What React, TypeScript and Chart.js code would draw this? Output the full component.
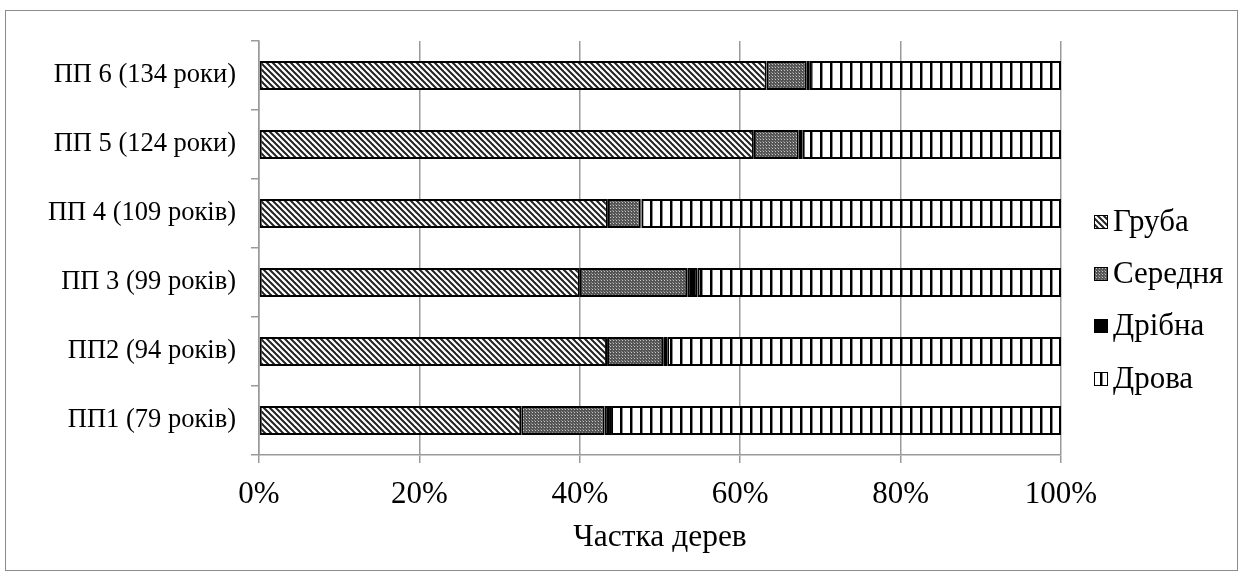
import React, { useEffect, useRef } from "react";
import { Chart, registerables } from "chart.js";

Chart.register(...registerables);

// Sample plots, listed top to bottom
const plots = [
  "ПП 6 (134 роки)",
  "ПП 5 (124 роки)",
  "ПП 4 (109 років)",
  "ПП 3 (99 років)",
  "ПП2 (94 років)",
  "ПП1 (79 років)",
];

// Share of trees by timber class, %
const coarse = [63.3, 61.7, 43.5, 40.0, 43.4, 32.7];
const medium = [5.0, 5.6, 4.1, 13.4, 7.0, 10.4];
const small = [0.3, 0.5, 0.1, 1.3, 0.5, 0.8];
const firewood = [31.4, 32.2, 52.3, 45.3, 49.1, 56.1];

const seriesNames = ["Груба", "Середня", "Дрібна", "Дрова"];
const xTicks = [0, 20, 40, 60, 80, 100];
const xTitle = "Частка дерев";

const SERIF = '"Liberation Serif", "Times New Roman", serif';
const GRID = "#9a9a9a";

function tile(size: number, paint: (c: CanvasRenderingContext2D) => void) {
  const cv = document.createElement("canvas");
  cv.width = size;
  cv.height = size;
  const c = cv.getContext("2d")!;
  c.fillStyle = "#fff";
  c.fillRect(0, 0, size, size);
  paint(c);
  return cv;
}

function makePatterns(ctx: CanvasRenderingContext2D) {
  // "\\\" hatch
  const diag = tile(6, (c) => {
    c.strokeStyle = "#222";
    c.lineWidth = 2;
    for (const x0 of [-6, 0, 6]) {
      c.beginPath();
      c.moveTo(x0 - 1, -1);
      c.lineTo(x0 + 7, 7);
      c.stroke();
    }
  });
  // fine dotted grey
  const dots = tile(3, (c) => {
    c.fillStyle = "#555";
    c.fillRect(0, 0, 3, 3);
    c.fillStyle = "#c8c8c8";
    c.fillRect(1, 1, 1, 1);
    c.fillStyle = "#8a8a8a";
    c.fillRect(0, 0, 1, 1);
  });
  // vertical stripes
  const vert = tile(10, (c) => {
    c.fillStyle = "#000";
    c.fillRect(0, 0, 2, 10);
    c.fillStyle = "#8a8a8a";
    c.fillRect(2, 0, 1, 10);
  });
  return [
    ctx.createPattern(diag, "repeat")!,
    ctx.createPattern(dots, "repeat")!,
    "#000",
    ctx.createPattern(vert, "repeat")!,
  ];
}

const legendPlugin = {
  id: "sideLegend",
  afterDraw(chart: any) {
    const ctx: CanvasRenderingContext2D = chart.ctx;
    const ys = [222, 274, 326, 379];
    const bx = 1094;
    const box = 14;
    ctx.save();
    chart.data.datasets.forEach((ds: any, i: number) => {
      const y = ys[i];
      ctx.fillStyle = ds.backgroundColor;
      ctx.fillRect(bx, y - box / 2, box, box);
      ctx.strokeStyle = "#000";
      ctx.lineWidth = 1;
      ctx.strokeRect(bx + 0.5, y - box / 2 + 0.5, box - 1, box - 1);
      ctx.fillStyle = "#000";
      ctx.font = `31px ${SERIF}`;
      ctx.textBaseline = "middle";
      ctx.textAlign = "left";
      ctx.fillText(ds.label, bx + box + 5, y + 1);
    });
    ctx.restore();
  },
};

export default function App() {
  const ref = useRef<HTMLCanvasElement>(null);

  useEffect(() => {
    const canvas = ref.current!;
    const ctx = canvas.getContext("2d")!;
    const fills = makePatterns(ctx);
    const values = [coarse, medium, small, firewood];

    const chart = new Chart(canvas, {
      type: "bar",
      data: {
        labels: plots,
        datasets: seriesNames.map((name, i) => ({
          label: name,
          data: values[i],
          backgroundColor: fills[i] as any,
          borderColor: "#000",
          borderWidth: 2,
          borderSkipped: false,
          categoryPercentage: 1,
          barPercentage: 0.42,
        })),
      },
      options: {
        indexAxis: "y",
        responsive: false,
        animation: false,
        layout: { padding: { top: 41, right: 181, bottom: 17, left: 0 } },
        scales: {
          x: {
            stacked: true,
            min: 0,
            max: 100,
            afterBuildTicks: (scale: any) => {
              scale.ticks = xTicks.map((v) => ({ value: v }));
            },
            afterFit: (scale: any) => {
              scale.height = 106;
            },
            ticks: {
              callback: (v: any) => `${v}%`,
              color: "#000",
              font: { family: SERIF, size: 31 },
              padding: 13,
            },
            grid: { color: GRID, lineWidth: 1.5, tickLength: 8 },
            border: { color: GRID, width: 1.5 },
            title: {
              display: true,
              text: xTitle,
              color: "#000",
              font: { family: SERIF, size: 31.5 },
              padding: { top: 0, bottom: 4 },
            },
          },
          y: {
            stacked: true,
            afterFit: (scale: any) => {
              scale.width = 259;
            },
            ticks: {
              color: "#000",
              font: { family: SERIF, size: 26.5 },
              padding: 15,
            },
            grid: {
              drawOnChartArea: false,
              color: GRID,
              lineWidth: 1.5,
              tickLength: 8,
              offset: true,
            },
            border: { color: GRID, width: 1.5 },
          },
        },
        plugins: {
          legend: { display: false },
          tooltip: { enabled: false },
        },
      },
      plugins: [legendPlugin],
    });
    return () => chart.destroy();
  }, []);

  return (
    <div
      style={{
        position: "absolute",
        left: 0,
        top: 0,
        width: 1242,
        height: 578,
        background: "#fff",
      }}
    >
      <canvas
        ref={ref}
        width={1242}
        height={578}
        style={{ position: "absolute", left: 0, top: 0, width: 1242, height: 578 }}
      />
      <div
        style={{
          position: "absolute",
          left: 5,
          top: 10,
          width: 1231,
          height: 559,
          border: "1.5px solid #8c8c8c",
          pointerEvents: "none",
        }}
      />
    </div>
  );
}
